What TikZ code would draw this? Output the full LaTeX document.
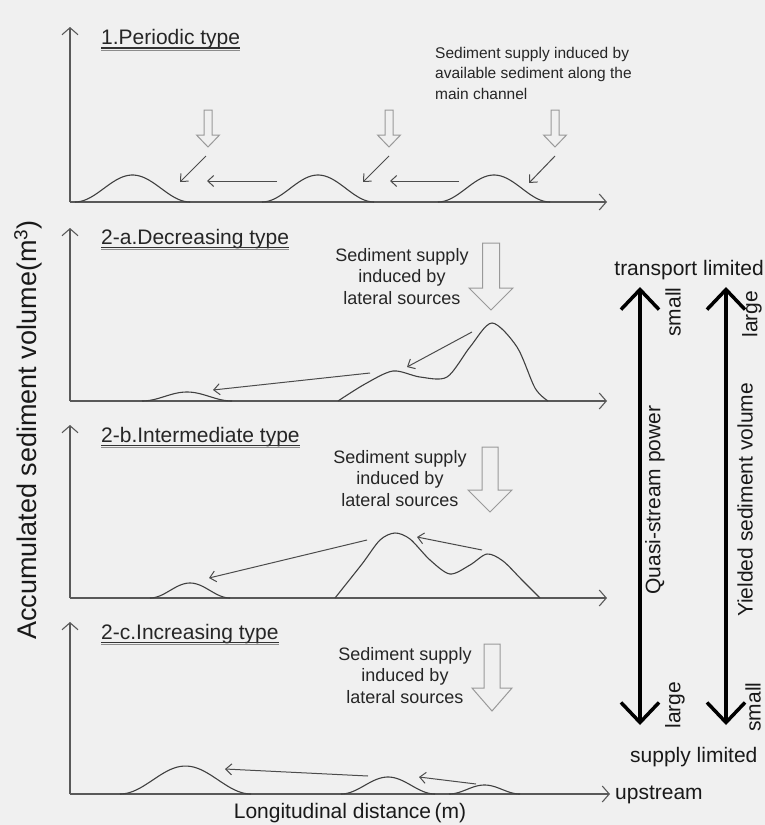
\documentclass[tikz,border=0pt]{standalone}
\usepackage{fontspec}
\setmainfont{Liberation Sans}
\usepackage{tikz}
\usetikzlibrary{arrows.meta, calc}

% raised-cosine heap on an axis: base, start, end, height
\newcommand{\sedbump}[4]{\draw[curve] plot[smooth,domain=#2:#3,samples=40] (\x, {#1-#4/2*(1+cos((\x-(#2+#3)/2)/(#3-#2)*360))});}
% hollow supply arrow: x, top, head start, tip, shaft half width, head half width
\newcommand{\supplyarrow}[6]{\draw[hollow] (#1-#5,#2) -- (#1+#5,#2) -- (#1+#5,#3) -- (#1+#6,#3) -- (#1,#4) -- (#1-#6,#3) -- (#1-#5,#3) -- cycle;}
% double underline of a panel title
\newcommand{\titleline}[1]{%
  \draw[black!80,line width=1.3pt] ([yshift=-3.5pt]#1.base west) -- ([yshift=-3.5pt]#1.base east);
  \draw[black!45,line width=1.3pt] ([yshift=-5.8pt]#1.base west) -- ([yshift=-5.8pt]#1.base east);}

\tikzset{
  axis/.style={black!65, line width=1.1pt, -{Straight Barb[length=7pt,width=16pt]}},
  curve/.style={black!75, line width=1.1pt},
  flow/.style={black!70, line width=1pt, -{Straight Barb[length=6pt,width=11pt]}},
  hollow/.style={black!40, line width=1pt},
  bigarrow/.style={black, line width=3.5pt, {Straight Barb[length=20pt,width=38pt]}-{Straight Barb[length=20pt,width=38pt]}},
  title/.style={anchor=base west, inner sep=0pt, text=black!85, font=\fontsize{21}{24}\selectfont},
  note/.style={align=center, anchor=north, inner sep=0pt, text=black!85, font=\fontsize{18}{21.5}\selectfont},
  side/.style={inner sep=0pt, text=black!90, font=\fontsize{21}{24}\selectfont}
}

\begin{document}
\begin{tikzpicture}[x=1pt,y=-1pt]

\useasboundingbox (0,0) rectangle (765,825);
\fill[black!6] (0,0) rectangle (765,825);

% Panel 1
\draw[axis] (70,202) -- (70,27);
\draw[axis] (70,202) -- (607,202);
\node[title] (t1) at (101,44.5) {1.Periodic type};
\titleline{t1}
\node[note, align=left, anchor=north west, font=\fontsize{15.5}{20.5}\selectfont] (n1) at (435,47) {Sediment supply induced by\\available sediment along the\\main channel};
\sedbump{202}{75}{190}{27}
\sedbump{202}{262}{374}{27}
\sedbump{202}{438}{550}{27}
\supplyarrow{208}{110}{135}{147}{4}{11.5}
\supplyarrow{389}{110}{135}{147}{4}{11.5}
\supplyarrow{555}{110}{135}{147}{4}{11.5}
\draw[flow] (206,156) -- (180,182);
\draw[flow] (277,181) -- (207,181);
\draw[flow] (389,156) -- (363,182);
\draw[flow] (459,181) -- (390,181);
\draw[flow] (555,156) -- (529,183);

% Panel 2-a
\draw[axis] (70,401) -- (70,228);
\draw[axis] (70,401) -- (607,401);
\node[title] (t2) at (101,244) {2-a.Decreasing type};
\titleline{t2}
\node[note] (n2) at (402,248) {Sediment supply\\induced by\\lateral sources};
\sedbump{401}{142}{232}{9}
\draw[curve] plot[smooth] coordinates {(338,401) (365,384) (393,371) (420,377) (447,377) (470,347) (492,323) (517,347) (535,388) (548,401)};
\supplyarrow{491}{243}{288}{310}{8.5}{22}
\draw[flow] (472,332) -- (407,367);
\draw[flow] (370,373) -- (213,390);

% Panel 2-b
\draw[axis] (70,598) -- (70,425);
\draw[axis] (70,598) -- (607,598);
\node[title] (t3) at (101,442) {2-b.Intermediate type};
\titleline{t3}
\node[note] (n3) at (400,450) {Sediment supply\\induced by\\lateral sources};
\sedbump{598}{150}{230}{15}
\draw[curve] plot[smooth] coordinates {(335,598) (362,564) (380,540) (395,533) (410,539) (430,560) (450,574) (470,565) (487,554) (503,561) (522,580) (540,598)};
\supplyarrow{490}{447}{490}{512}{8}{22}
\draw[flow] (482,550) -- (417,537);
\draw[flow] (367,540) -- (209,578);

% Panel 2-c
\draw[axis] (70,794) -- (70,622);
\draw[axis] (70,794) -- (610,794);
\node[title] (t4) at (101,639) {2-c.Increasing type};
\titleline{t4}
\node[note] (n4) at (405,647) {Sediment supply\\induced by\\lateral sources};
\sedbump{794}{120}{251}{28}
\sedbump{794}{341}{435}{17}
\sedbump{794}{449}{520}{9}
\supplyarrow{492}{644}{688}{711}{8}{20}
\draw[flow] (368,776) -- (225,769);
\draw[flow] (476,784) -- (419,777);

% Axis labels
\node[side, rotate=90, font=\fontsize{27}{30}\selectfont] (ylab) at (28,430) {Accumulated sediment volume(m\textsuperscript{3})};
\node[side, anchor=base] (xlab) at (350,818) {Longitudinal distance\,(m)};
\node[side, anchor=base west] (up) at (615,799) {upstream};

% Right scales
\node[side, anchor=base east] (tl) at (764,275) {transport limited};
\node[side, anchor=base west] (sl) at (630,762) {supply limited};
\draw[bigarrow] (640,287) -- (640,725);
\draw[bigarrow] (726,287) -- (726,725);
\node[side, rotate=90] (qsp) at (655,500) {Quasi-stream power};
\node[side, rotate=90] (ysv) at (745,500) {Yielded sediment volume};
\node[side, rotate=90] (s1) at (673,312) {small};
\node[side, rotate=90] (l1) at (752,314) {large};
\node[side, rotate=90] (l2) at (675,705) {large};
\node[side, rotate=90] (s2) at (753,707) {small};

\end{tikzpicture}
\end{document}
